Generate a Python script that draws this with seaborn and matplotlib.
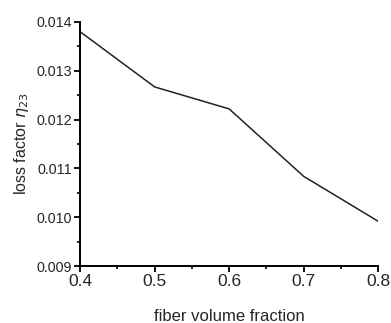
import matplotlib
matplotlib.use("Agg")
import matplotlib.pyplot as plt
import seaborn as sns
import pandas as pd
from matplotlib.ticker import MultipleLocator

fraction = [0.4, 0.5, 0.6, 0.7, 0.8]
loss = [0.0138, 0.01267, 0.01222, 0.01084, 0.00992]
xticks = [0.4, 0.5, 0.6, 0.7, 0.8]
yticks = [0.009, 0.010, 0.011, 0.012, 0.013, 0.014]

sns.set_style("ticks")
plt.rcParams['font.family'] = ['Liberation Sans', 'DejaVu Sans']

df = pd.DataFrame({"fraction": fraction, "loss": loss})
fig = plt.figure(figsize=(3.91, 3.23), dpi=100)
ax = fig.add_axes([0.205, 0.176, 0.762, 0.756])
sns.lineplot(data=df, x="fraction", y="loss", ax=ax, color="#222222", linewidth=1.1)
ax.set_xlim(0.4, 0.8)
ax.set_ylim(0.009, 0.014)
ax.set_xticks(xticks)
ax.set_xticklabels([f"{v:.1f}" for v in xticks], fontsize=12.5)
ax.set_yticks(yticks)
ax.set_yticklabels([f"{v:.3f}" for v in yticks], fontsize=10.3)
ax.xaxis.set_minor_locator(MultipleLocator(0.05))
ax.yaxis.set_minor_locator(MultipleLocator(0.0005))
ax.tick_params(which='major', direction='out', length=4, width=1.3, color='black', pad=2)
ax.tick_params(which='minor', direction='out', length=2.5, width=1.2, color='black')
for s in ['top', 'right']:
    ax.spines[s].set_visible(False)
for s in ['left', 'bottom']:
    ax.spines[s].set_linewidth(1.4)
    ax.spines[s].set_color('black')
ax.set_xlabel("fiber volume fraction", fontsize=12, labelpad=14)
ax.set_ylabel(r"loss factor $\eta_{23}$", fontsize=11.5, labelpad=4)
fig.savefig("out.png", dpi=100)
